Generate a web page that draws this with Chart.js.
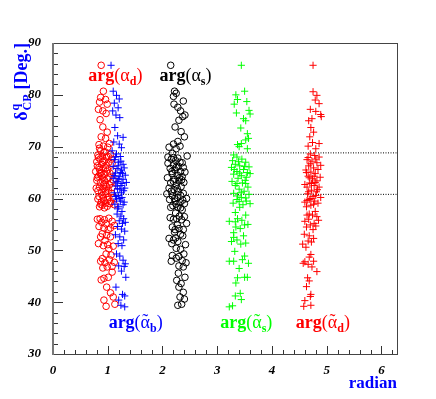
<!DOCTYPE html>
<html>
<head>
<meta charset="utf-8">
<script src="https://cdn.jsdelivr.net/npm/chart.js@4/dist/chart.umd.min.js"></script>
<style>
  html, body { margin: 0; padding: 0; background: #fff; }
</style>
</head>
<body>
<canvas id="chart" width="436" height="399"></canvas>
<script>
// [phase (radian), delta_CP (deg)]
const alphaD = [[0.88,85.7],[0.92,80.7],[0.87,79.5],[0.96,79.1],[0.85,78.6],[0.99,78.2],[0.83,77.2],[0.91,76.9],[0.97,76.4],[0.86,75.2],
  [0.91,73.8],[0.99,72.8],[0.88,71.9],[0.96,71.6],[0.84,70.4],[0.92,70.1],[1.00,69.9],[0.87,69.2],[0.95,69.0],[0.82,68.4],
  [0.90,68.2],[0.98,68.0],[1.05,68.5],[0.86,67.6],[0.94,67.3],[1.02,67.0],[0.80,67.1],[0.89,66.6],[0.97,66.4],[1.08,66.8],
  [0.84,66.0],[0.92,65.8],[1.00,65.5],[0.78,65.2],[0.88,65.0],[0.95,64.7],[1.04,64.9],[0.83,64.3],[0.91,64.1],[0.99,63.8],
  [1.10,63.6],[0.80,63.5],[0.87,63.1],[0.95,62.8],[1.03,62.6],[0.85,62.2],[0.93,61.9],[1.01,61.6],[0.89,61.2],[0.97,60.9],
  [1.07,61.0],[0.84,60.4],[0.92,60.1],[1.00,59.8],[0.88,59.3],[0.96,59.1],[1.05,59.4],[0.90,58.7],[0.99,58.5],[1.12,58.8],
  [0.86,56.1],[0.94,55.9],[1.02,56.2],[0.89,55.4],[0.97,55.1],[1.08,55.6],[0.84,54.6],[0.93,54.3],[1.01,54.0],[1.12,54.8],
  [0.90,53.2],[0.98,52.9],[1.05,52.6],[0.95,51.9],[0.83,51.3],[0.92,50.9],[1.00,51.1],[1.10,50.8],[0.97,49.3],[1.06,49.1],
  [0.87,47.9],[0.95,47.6],[1.03,48.2],[1.12,47.7],[0.99,46.8],[0.91,46.6],[1.08,46.9],[0.93,44.6],[1.01,44.8],[0.88,44.3],
  [0.98,42.9],[1.05,41.8],[0.93,40.4],[1.10,41.0],[0.97,39.2],[1.13,39.6],[0.81,66.3],[0.86,64.8],[0.94,63.5],[1.06,63.0],
  [0.79,62.0],[0.90,60.6],[0.98,62.3],[1.02,60.3],[0.87,58.9],[0.94,58.2],[0.82,59.9],[1.09,65.3],[0.85,69.7],[1.03,70.6],
  [0.93,68.9],[0.83,67.9],[1.01,68.1],[0.91,67.0],[1.07,67.6],[0.85,65.6],[0.96,65.9],[0.89,64.4],[1.02,64.1],[0.81,64.0],
  [0.92,62.6],[1.08,62.1],[0.82,61.5],[0.96,61.3],[1.04,59.0],[0.85,58.4],[0.93,59.6],[1.10,60.2],[0.81,56.0],[1.05,54.3],
  [0.87,52.6],[1.02,50.3],[0.90,48.4],[1.08,45.8]];

const alphaBt = [[1.06,85.7],[1.10,80.7],[1.16,79.9],[1.21,79.2],[1.12,78.4],[1.19,77.5],[1.09,76.9],[1.15,76.1],[1.22,75.6],[1.13,73.7],
  [1.18,72.1],[1.28,71.8],[1.11,70.9],[1.21,70.5],[1.25,69.8],[1.08,69.2],[1.16,68.6],[1.23,68.1],[1.12,67.5],[1.20,67.0],
  [1.28,66.6],[1.10,66.2],[1.17,65.8],[1.25,65.5],[1.32,64.5],[1.14,64.9],[1.21,64.2],[1.28,63.7],[1.10,63.9],[1.18,63.3],
  [1.26,62.9],[1.34,63.1],[1.15,62.4],[1.22,61.8],[1.29,61.5],[1.12,61.1],[1.19,60.6],[1.26,60.2],[1.16,59.9],[1.23,59.5],
  [1.30,59.3],[1.13,58.9],[1.20,58.4],[1.17,57.0],[1.24,56.6],[1.29,56.1],[1.21,55.7],[1.27,55.2],[1.32,55.4],[1.18,54.6],
  [1.25,54.1],[1.31,53.7],[1.14,53.0],[1.22,52.6],[1.29,52.0],[1.19,51.3],[1.26,50.9],[1.16,49.3],[1.22,48.9],[1.28,48.1],
  [1.32,47.4],[1.20,47.0],[1.30,46.9],[1.25,46.0],[1.33,44.8],[1.15,42.9],[1.27,41.5],[1.31,41.2],[1.20,40.4],[1.24,39.4],
  [1.31,39.1],[1.14,68.0],[1.24,67.2],[1.19,66.3],[1.30,65.9],[1.23,65.0],[1.12,64.4],[1.27,64.8],[1.20,63.8],[1.15,63.0],
  [1.24,62.5],[1.31,62.0],[1.18,61.9],[1.25,61.1],[1.14,60.4],[1.22,60.0],[1.28,58.8],[1.18,58.0],[1.26,57.5]];

const alphaS = [[2.15,85.7],[2.22,80.7],[2.25,80.3],[2.20,79.7],[2.38,78.8],[2.21,78.2],[2.28,77.6],[2.33,76.9],[2.41,76.1],[2.37,75.8],
  [2.30,75.1],[2.23,73.8],[2.34,72.9],[2.40,71.9],[2.28,71.0],[2.20,70.5],[2.32,70.1],[2.12,69.9],[2.25,69.6],[2.18,68.7],
  [2.45,68.2],[2.10,68.0],[2.16,67.6],[2.24,67.3],[2.32,67.0],[2.10,66.8],[2.20,66.5],[2.29,66.2],[2.38,66.0],[2.14,65.8],
  [2.23,65.5],[2.33,65.2],[2.41,65.1],[2.18,64.8],[2.27,64.5],[2.36,64.2],[2.09,64.0],[2.22,63.7],[2.30,63.4],[2.39,63.1],
  [2.15,63.0],[2.25,62.6],[2.34,62.3],[2.12,62.0],[2.21,61.7],[2.29,61.3],[2.38,61.0],[2.08,60.9],[2.18,60.5],[2.27,60.2],
  [2.44,60.0],[2.13,59.8],[2.23,59.5],[2.32,59.2],[2.40,59.0],[2.19,58.6],[2.28,58.3],[2.36,57.8],[2.24,57.2],[2.31,56.6],
  [2.40,56.5],[2.14,56.3],[2.20,56.0],[2.35,55.9],[2.44,55.2],[2.27,54.9],[2.18,54.5],[2.30,54.2],[2.38,54.0],[2.22,53.5],
  [2.12,52.3],[2.20,52.0],[2.28,51.7],[2.17,51.3],[2.37,52.8],[2.42,51.1],[2.25,50.4],[2.33,50.2],[2.18,49.0],[2.30,48.8],
  [2.39,49.3],[2.25,48.5],[2.36,48.0],[2.16,47.9],[2.43,47.6],[2.30,47.0],[2.38,46.8],[2.29,45.6],[2.41,44.8],[2.26,44.2],
  [2.34,43.6],[2.30,42.9],[2.38,41.9],[2.32,41.0],[2.40,40.6],[2.28,39.4],[2.35,39.6],[2.20,67.9],[2.28,67.8],[2.36,66.9],
  [2.25,66.0],[2.17,65.2],[2.31,64.0],[2.20,63.3],[2.35,63.6],[2.27,61.9],[2.16,61.4],[2.33,60.6],[2.22,60.0],[2.37,59.7],
  [2.25,58.9],[2.15,58.3],[2.33,58.2],[2.26,56.1],[2.23,54.0],[2.33,53.1],[2.24,52.4]];

const alphaSt = [[3.44,85.7],[3.50,80.7],[3.34,80.0],[3.37,79.1],[3.54,78.7],[3.31,78.2],[3.58,77.0],[3.60,76.3],[3.35,76.5],[3.48,75.4],
  [3.52,75.0],[3.43,73.6],[3.55,72.5],[3.57,71.6],[3.52,71.3],[3.44,70.6],[3.37,70.4],[3.40,70.0],[3.55,69.6],[3.30,68.4],
  [3.36,68.0],[3.45,67.6],[3.28,67.3],[3.52,67.0],[3.33,66.6],[3.41,66.3],[3.58,66.1],[3.26,66.0],[3.48,65.6],[3.36,65.2],
  [3.55,65.0],[3.30,64.7],[3.44,64.4],[3.60,64.8],[3.38,63.9],[3.51,63.5],[3.27,63.3],[3.46,63.0],[3.33,62.5],[3.56,62.2],
  [3.40,61.8],[3.49,61.4],[3.30,61.0],[3.58,60.8],[3.44,60.2],[3.36,59.8],[3.53,59.5],[3.29,59.1],[3.47,58.8],[3.60,59.0],
  [3.41,58.3],[3.33,57.3],[3.52,56.8],[3.37,56.1],[3.45,55.8],[3.22,55.6],[3.56,55.0],[3.34,54.5],[3.42,54.2],[3.50,54.9],
  [3.30,53.4],[3.48,52.8],[3.36,52.0],[3.26,51.7],[3.43,51.2],[3.52,51.4],[3.32,49.8],[3.22,47.9],[3.30,47.9],[3.50,48.9],
  [3.46,48.2],[3.57,47.5],[3.40,46.5],[3.37,44.7],[3.50,44.8],[3.55,44.8],[3.34,43.7],[3.42,41.7],[3.33,41.2],[3.44,40.5],
  [3.22,39.1],[3.28,39.3],[3.50,66.2],[3.39,67.1],[3.31,65.6],[3.53,64.1],[3.41,64.9],[3.36,62.9],[3.52,62.9],[3.44,61.1],
  [3.37,60.5],[3.52,60.1],[3.40,59.4],[3.33,55.5],[3.30,52.5]];

const alphaDt = [[4.75,85.7],[4.75,80.6],[4.82,79.9],[4.79,79.0],[4.86,78.3],[4.70,77.2],[4.80,76.8],[4.89,76.2],[4.90,75.8],[4.73,75.4],
  [4.67,75.0],[4.71,73.7],[4.76,72.8],[4.69,71.9],[4.74,70.8],[4.86,70.6],[4.66,70.1],[4.80,69.6],[4.70,68.6],[4.78,68.3],
  [4.86,68.0],[4.64,67.5],[4.73,67.2],[4.82,66.9],[4.89,66.4],[4.67,66.3],[4.76,65.9],[4.62,65.5],[4.84,65.6],[4.71,65.1],
  [4.79,64.8],[4.66,64.3],[4.88,64.1],[4.74,63.8],[4.82,63.4],[4.69,63.0],[4.60,62.7],[4.77,62.5],[4.86,62.2],[4.72,61.6],
  [4.81,61.3],[4.65,60.9],[4.75,60.4],[4.89,60.2],[4.68,59.8],[4.78,59.5],[4.60,59.3],[4.84,59.1],[4.71,58.7],[4.63,58.4],
  [4.79,57.5],[4.74,56.8],[4.82,56.5],[4.67,56.0],[4.60,55.6],[4.77,55.2],[4.85,55.8],[4.70,54.9],[4.63,54.5],[4.75,54.0],
  [4.80,54.7],[4.59,53.1],[4.68,52.8],[4.76,52.3],[4.66,51.8],[4.72,51.6],[4.56,51.2],[4.62,50.6],[4.71,49.2],[4.68,48.7],
  [4.60,47.8],[4.76,47.9],[4.66,47.3],[4.57,47.5],[4.73,46.8],[4.82,45.9],[4.65,44.7],[4.68,44.1],[4.63,43.0],[4.71,41.5],
  [4.70,41.1],[4.60,40.3],[4.58,39.2],[4.71,39.4],[4.66,67.9],[4.80,67.6],[4.70,66.7],[4.63,65.0],[4.77,64.3],[4.68,64.0],
  [4.79,63.1],[4.64,62.2],[4.72,62.9],[4.83,61.7],[4.67,61.3],[4.80,60.6],[4.71,60.0],[4.64,59.6],[4.76,58.9],[4.68,57.0],
  [4.64,56.8]];

const bandLevels = [68.8, 60.8];
const xTickValues = [0, 1, 2, 3, 4, 5, 6];
const yTickValues = [30, 40, 50, 60, 70, 80, 90];

const SERIF = '"Liberation Serif", "Times New Roman", serif';

function toPoints(pairs) {
  return pairs.map(p => ({ x: p[0], y: p[1] }));
}

function scatterSet(pairs, color, style) {
  return {
    type: 'scatter',
    data: toPoints(pairs),
    pointStyle: style,
    pointRadius: style === 'circle' ? 3.3 : 3.6,
    pointBorderWidth: 1,
    borderColor: color,
    backgroundColor: 'rgba(0,0,0,0)',
    pointHoverRadius: 0
  };
}

const datasets = [
  scatterSet(alphaBt, '#0000ff', 'cross'),
  scatterSet(alphaD, '#ff0000', 'circle'),
  scatterSet(alphaS, '#000000', 'circle'),
  scatterSet(alphaSt, '#00ff00', 'cross'),
  scatterSet(alphaDt, '#ff0000', 'cross')
];
bandLevels.forEach(v => {
  datasets.push({
    type: 'line',
    data: [{ x: 0, y: v }, { x: 2 * Math.PI, y: v }],
    borderColor: '#000',
    borderWidth: 1,
    borderDash: [1, 1.5],
    pointRadius: 0,
    fill: false
  });
});

// ROOT-like frame with inward ticks
const rootFrame = {
  id: 'rootFrame',
  afterDraw(chart) {
    const { ctx, chartArea: a, scales } = chart;
    const sx = scales.x, sy = scales.y;
    const left = Math.round(a.left), bottom = Math.round(a.bottom);
    const right = Math.round(a.right), top = Math.round(a.top);
    ctx.save();
    ctx.setLineDash([]);
    ctx.fillStyle = '#333';
    for (let i = 0; i <= 31; i++) {
      const px = Math.round(sx.getPixelForValue(i * 0.2));
      const len = i % 5 === 0 ? 8 : 4;
      ctx.fillRect(px, bottom - len, 1, len);
    }
    for (let v = 30; v <= 90; v += 2) {
      const py = Math.round(sy.getPixelForValue(v));
      const len = v % 10 === 0 ? 10 : 5;
      ctx.fillRect(left, py, len, 1);
    }
    ctx.fillStyle = '#444';
    ctx.fillRect(left - 1, top, right - left + 2, 1);
    ctx.fillRect(left - 1, bottom, right - left + 2, 1);
    ctx.fillStyle = '#777';
    ctx.fillRect(left - 1, top, 2, bottom - top + 1);
    ctx.fillStyle = '#444';
    ctx.fillRect(right, top, 1, bottom - top + 1);
    ctx.restore();
  }
};

function drawArg(ctx, cx, cy, sub, tilde, color) {
  const reg = '18px ' + SERIF, bold = 'bold 18px ' + SERIF, small = 'bold 12px ' + SERIF;
  const parts = [['arg', bold, 0], ['(', reg, 0], ['\u03b1', reg, 0], [sub, small, 4], [')', reg, 0]];
  let total = 0;
  parts.forEach(p => { ctx.font = p[1]; p.push(ctx.measureText(p[0]).width); total += p[3]; });
  let x = cx - total / 2;
  const base = cy + 5;
  ctx.fillStyle = color;
  ctx.textAlign = 'left';
  ctx.textBaseline = 'alphabetic';
  parts.forEach(p => {
    ctx.font = p[1];
    ctx.fillText(p[0], x, base + p[2]);
    if (tilde && p[0] === '\u03b1') {
      ctx.textAlign = 'center';
      ctx.fillText('\u02dc', x + p[3] / 2, base - 1);
      ctx.textAlign = 'left';
    }
    x += p[3];
  });
}

const annotations = {
  id: 'annotations',
  afterDraw(chart) {
    const { ctx, chartArea: a, scales } = chart;
    const sx = scales.x, sy = scales.y;
    ctx.save();
    drawArg(ctx, sx.getPixelForValue(1.14), sy.getPixelForValue(83.6), 'd', false, '#ff0000');
    drawArg(ctx, sx.getPixelForValue(2.42), sy.getPixelForValue(83.6), 's', false, '#000000');
    drawArg(ctx, sx.getPixelForValue(1.51), sy.getPixelForValue(35.9), 'b', true, '#0000ff');
    drawArg(ctx, sx.getPixelForValue(3.53), sy.getPixelForValue(35.9), 's', true, '#00ff00');
    drawArg(ctx, sx.getPixelForValue(4.93), sy.getPixelForValue(35.9), 'd', true, '#ff0000');

    // x title
    ctx.fillStyle = '#0000ff';
    ctx.font = 'bold 17px ' + SERIF;
    ctx.textAlign = 'right';
    ctx.fillText('radian', a.right, 388);

    // y title, rotated
    const big = 'bold 18px ' + SERIF, small = 'bold 12px ' + SERIF;
    ctx.font = big;
    const wd = ctx.measureText('\u03b4').width + 1;
    const wr = ctx.measureText('[Deg.]').width;
    const gap = 5;
    ctx.font = small;
    const ws = Math.max(ctx.measureText('q').width, ctx.measureText('CP').width);
    const total = wd + ws + gap + wr;
    ctx.translate(27, a.top + total);
    ctx.rotate(-Math.PI / 2);
    ctx.textAlign = 'left';
    ctx.font = big;
    ctx.fillText('\u03b4', 0, 0);
    ctx.font = small;
    ctx.fillText('q', wd, -8);
    ctx.fillText('CP', wd, 4);
    ctx.font = big;
    ctx.fillText('[Deg.]', wd + ws + gap, 0);
    ctx.restore();
  }
};

const tickFont = { family: SERIF, size: 13, weight: 'bold', style: 'italic' };

new Chart(document.getElementById('chart'), {
  type: 'scatter',
  data: { datasets: datasets },
  options: {
    responsive: false,
    animation: false,
    events: [],
    layout: { padding: { top: 43, right: 39, left: 0, bottom: 0 } },
    plugins: { legend: { display: false }, tooltip: { enabled: false } },
    scales: {
      x: {
        type: 'linear',
        min: 0,
        max: 2 * Math.PI,
        grid: { display: false },
        border: { display: false },
        ticks: { font: tickFont, color: '#000', padding: 1, maxRotation: 0 },
        afterBuildTicks: s => { s.ticks = xTickValues.map(v => ({ value: v })); },
        afterFit: s => { s.height = 45; }
      },
      y: {
        type: 'linear',
        min: 30,
        max: 90,
        grid: { display: false },
        border: { display: false },
        ticks: { font: tickFont, color: '#000', padding: 4 },
        afterBuildTicks: s => { s.ticks = yTickValues.map(v => ({ value: v })); },
        afterFit: s => { s.width = 53; }
      }
    }
  },
  plugins: [rootFrame, annotations]
});
</script>
</body>
</html>
